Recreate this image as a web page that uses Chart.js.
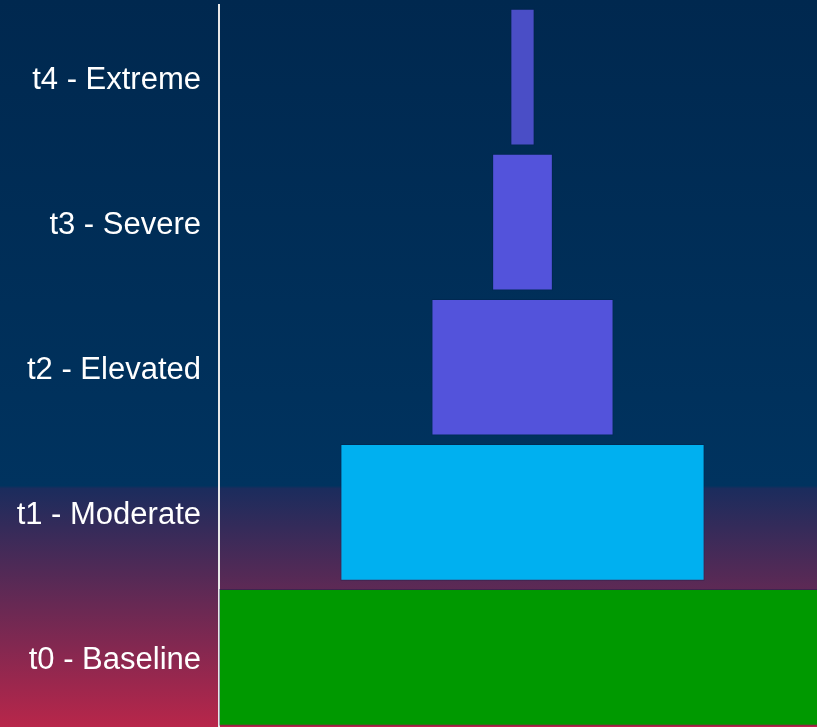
<!DOCTYPE html>
<html>
<head>
<meta charset="utf-8">
<script src="https://cdn.jsdelivr.net/npm/chart.js@4/dist/chart.umd.min.js"></script>
<style>
  html, body { margin: 0; padding: 0; overflow: hidden; background: #002a55; }
  #wrap { position: relative; width: 826px; height: 730px; }
</style>
</head>
<body>
<div id="wrap"><canvas id="funnel"></canvas></div>
<script>
// Risk tiers, bottom to top
const tiers = ['t0 - Baseline', 't1 - Moderate', 't2 - Elevated', 't3 - Severe', 't4 - Extreme'];
// Half-width of each tier around the centre line
const halfWidths = [100, 60, 30, 10, 4];
const tierColors = ['#009900', '#00b0f0', '#5353db', '#5353db', '#4a4ec6'];

// Page background: deep navy that fades into crimson at the foot
const backdrop = {
  id: 'backdrop',
  beforeDraw(chart) {
    const { ctx, width } = chart;
    const h = 727;
    const g = ctx.createLinearGradient(0, 0, 0, h);
    g.addColorStop(0, '#00284f');
    g.addColorStop(0.668, '#00335f');
    g.addColorStop(0.672, '#1b2c5d');
    g.addColorStop(1, '#b8264a');
    ctx.save();
    ctx.fillStyle = g;
    ctx.fillRect(0, 0, width, chart.height);
    ctx.restore();
  }
};

new Chart(document.getElementById('funnel'), {
  type: 'bar',
  data: {
    labels: tiers,
    datasets: [{
      data: halfWidths.map(v => [-v, v]),
      backgroundColor: tierColors,
      borderColor: 'rgba(0, 30, 70, 0.35)',
      borderWidth: 1,
      borderSkipped: false,
      categoryPercentage: 1,
      barPercentage: 0.942
    }]
  },
  options: {
    indexAxis: 'y',
    responsive: true,
    maintainAspectRatio: false,
    animation: false,
    layout: { padding: { top: 4.5, left: 0, right: 0, bottom: 0 } },
    plugins: { legend: { display: false }, tooltip: { enabled: false } },
    scales: {
      x: {
        display: false,
        min: -100,
        max: 100
      },
      y: {
        reverse: true,
        z: 1,
        grid: { display: false, drawTicks: false, tickLength: 0 },
        border: { display: true, color: '#e8e8e8', width: 2 },
        ticks: {
          color: '#ffffff',
          padding: 18,
          labelOffset: 3,
          font: { family: '"Liberation Sans", Arial, sans-serif', size: 31 }
        },
        afterFit(scale) {
          scale.width = 219;
          scale.paddingTop = 0;
          scale.paddingBottom = 0;
        }
      }
    }
  },
  plugins: [backdrop]
});
</script>
</body>
</html>
